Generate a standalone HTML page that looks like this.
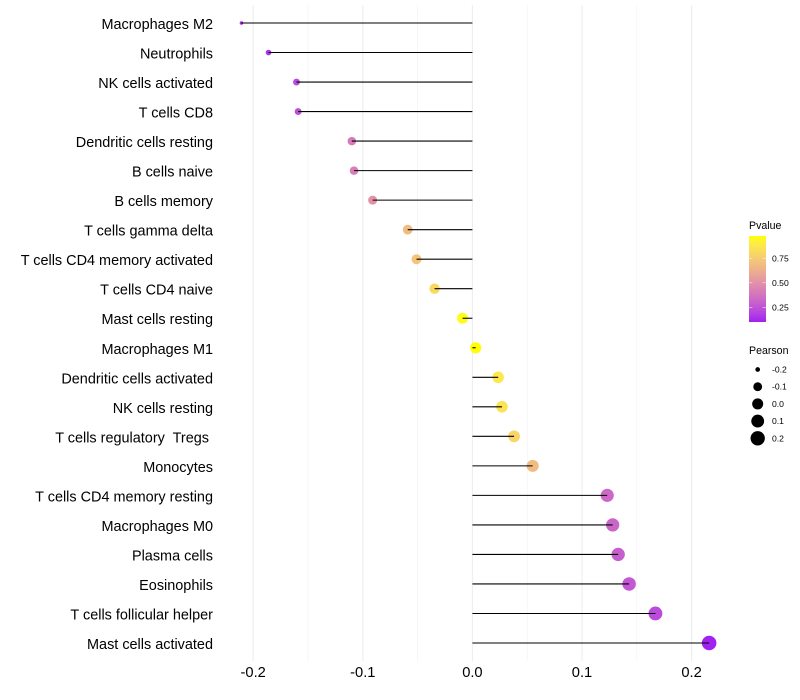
<!DOCTYPE html>
<html lang="en">
<head>
<meta charset="utf-8">
<title>Immune cell correlation lollipop chart</title>
<style>
html,body{margin:0;padding:0;background:#fff;width:800px;height:700px;overflow:hidden}
svg{display:block;font-family:"Liberation Sans",Arial,sans-serif}
</style>
</head>
<body>
<svg id="chart" width="800" height="700" viewBox="0 0 800 700" xmlns="http://www.w3.org/2000/svg">
  <defs>
    <linearGradient id="pvalue-gradient" x1="0" y1="1" x2="0" y2="0"></linearGradient>
  </defs>
  <rect width="800" height="700" fill="#ffffff"/>
  <g id="grid"></g>
  <g id="dots"></g>
  <g id="stems-top"></g>
  <g id="ylabels"></g>
  <g id="xlabels"></g>
  <g id="legend-p">
    <text x="749" y="229" font-size="10.6" fill="#000">Pvalue</text>
    <rect x="749" y="236" width="17" height="86" fill="url(#pvalue-gradient)"/>
  </g>
  <g id="legend-s">
    <text x="749" y="354" font-size="10.6" fill="#000">Pearson</text>
  </g>
</svg>
<script>
var categories = ["Macrophages M2","Neutrophils","NK cells activated","T cells CD8","Dendritic cells resting","B cells naive","B cells memory","T cells gamma delta","T cells CD4 memory activated","T cells CD4 naive","Mast cells resting","Macrophages M1","Dendritic cells activated","NK cells resting","T cells regulatory  Tregs ","Monocytes","T cells CD4 memory resting","Macrophages M0","Plasma cells","Eosinophils","T cells follicular helper","Mast cells activated"];
var pearson = [-0.2107,-0.186,-0.1605,-0.159,-0.110,-0.108,-0.091,-0.059,-0.051,-0.0345,-0.009,0.003,0.0235,0.027,0.038,0.055,0.123,0.128,0.133,0.143,0.167,0.216];
var pvalues = [0.11,0.15,0.22,0.23,0.40,0.42,0.50,0.68,0.72,0.81,0.96,0.99,0.87,0.85,0.79,0.68,0.33,0.32,0.29,0.27,0.22,0.10];
var xTicks = [-0.2,-0.1,0.0,0.1,0.2];
var xMinorTicks = [-0.15,-0.05,0.05,0.15];
var xTickLabels = ["-0.2","-0.1","0.0","0.1","0.2"];
var pLegendBreaks = [0.25,0.50,0.75];
var pLegendLabels = ["0.25","0.50","0.75"];
var sizeLegendBreaks = [-0.2,-0.1,0.0,0.1,0.2];
var sizeLegendLabels = ["-0.2","-0.1","0.0","0.1","0.2"];

var NS = "http://www.w3.org/2000/svg";
function make(tag, attrs, parent, text) {
  var el = document.createElementNS(NS, tag);
  for (var k in attrs) el.setAttribute(k, attrs[k]);
  if (text !== undefined) el.textContent = text;
  parent.appendChild(el);
  return el;
}
function slug(s) { return s.trim().toLowerCase().replace(/\s+/g, "-"); }
function xScale(v) { return 472.4 + v * 1096; }
function yScale(i) { return 23 + i * 29.524; }
function diameter(v) {
  var t = Math.max(0, (v - (-0.2107)) / 0.4267);
  return Math.max(3.6, 2.85 + 11.7 * Math.sqrt(t));
}
function lab(rgb) {
  var c = rgb.map(function (u) { u /= 255; return u > 0.04045 ? Math.pow((u + 0.055) / 1.055, 2.4) : u / 12.92; });
  var X = (0.4124 * c[0] + 0.3576 * c[1] + 0.1805 * c[2]) / 0.95047;
  var Y = 0.2126 * c[0] + 0.7152 * c[1] + 0.0722 * c[2];
  var Z = (0.0193 * c[0] + 0.1192 * c[1] + 0.9505 * c[2]) / 1.08883;
  function f(t) { return t > 0.008856 ? Math.cbrt(t) : 7.787 * t + 16 / 116; }
  return [116 * f(Y) - 16, 500 * (f(X) - f(Y)), 200 * (f(Y) - f(Z))];
}
function unlab(L) {
  var fy = (L[0] + 16) / 116, fx = fy + L[1] / 500, fz = fy - L[2] / 200;
  function g(t) { return t * t * t > 0.008856 ? t * t * t : (t - 16 / 116) / 7.787; }
  var X = g(fx) * 0.95047, Y = g(fy), Z = g(fz) * 1.08883;
  var r = [3.2406 * X - 1.5372 * Y - 0.4986 * Z, -0.9689 * X + 1.8758 * Y + 0.0415 * Z, 0.0557 * X - 0.204 * Y + 1.057 * Z];
  return "rgb(" + r.map(function (u) {
    u = Math.max(0, Math.min(1, u));
    u = u > 0.0031308 ? 1.055 * Math.pow(u, 1 / 2.4) - 0.055 : 12.92 * u;
    return Math.round(u * 255);
  }).join(",") + ")";
}
var labLow = lab([160, 32, 240]), labHigh = lab([255, 255, 0]);
var pMin = 0.098, pMax = 0.975;
function colorScale(p) {
  var t = Math.max(0, Math.min(1, (p - pMin) / (pMax - pMin)));
  return unlab([0, 1, 2].map(function (i) { return labLow[i] + (labHigh[i] - labLow[i]) * t; }));
}
function pLegendY(p) { return 307.3 - (p - 0.25) * 98; }

var grid = document.getElementById("grid");
xMinorTicks.forEach(function (v) {
  var line = make("line", {x1: xScale(v), x2: xScale(v), y1: 5, y2: 661, stroke: "#f0f0f0", "stroke-width": 0.6}, grid);
  
  
});
xTicks.forEach(function (v) {
  var line = make("line", {x1: xScale(v), x2: xScale(v), y1: 5, y2: 661, stroke: "#ededed", "stroke-width": 1.1}, grid);
  
  
});

var stems = document.getElementById("stems-top");
var dots = document.getElementById("dots");
var ylabels = document.getElementById("ylabels");
categories.forEach(function (name, i) {
  var y = yScale(i);
  var dot = make("circle", {cx: xScale(pearson[i]), cy: y, r: diameter(pearson[i]) / 2, fill: colorScale(pvalues[i])}, dots);
  
  
  var stem = make("line", {x1: xScale(0), x2: xScale(pearson[i]), y1: y, y2: y, stroke: "#000", "stroke-width": 1.07}, stems);
  
  
  var label = make("text", {x: 213, y: y + 6, "text-anchor": "end", "font-size": 14.45, fill: "#000", "xml:space": "preserve", style: "white-space:pre"}, ylabels, name);
  
  
});

var xlabels = document.getElementById("xlabels");
xTicks.forEach(function (v, i) {
  var label = make("text", {x: xScale(v), y: 677, "text-anchor": "middle", "font-size": 14.7, fill: "#000"}, xlabels, xTickLabels[i]);
  
  
});

var gradient = document.getElementById("pvalue-gradient");
for (var s = 0; s <= 20; s++) {
  make("stop", {offset: (s * 5) + "%", "stop-color": colorScale(pMin + (pMax - pMin) * s / 20)}, gradient);
}
var legendP = document.getElementById("legend-p");
pLegendBreaks.forEach(function (p, i) {
  var y = pLegendY(p);
  var tickLeft = make("line", {x1: 749, x2: 752.4, y1: y, y2: y, stroke: "#fff", "stroke-width": 0.6, opacity: 0.8}, legendP);
  
  
  var tickRight = make("line", {x1: 762.6, x2: 766, y1: y, y2: y, stroke: "#fff", "stroke-width": 0.6, opacity: 0.8}, legendP);
  
  
  var label = make("text", {x: 772, y: y + 3, "font-size": 8.6, fill: "#000"}, legendP, pLegendLabels[i]);
  
  
});

var legendS = document.getElementById("legend-s");
sizeLegendBreaks.forEach(function (v, i) {
  var y = 369.5 + i * 17.2;
  var key = make("circle", {cx: 757.7, cy: y, r: diameter(v) / 2, fill: "#000"}, legendS);
  
  
  var label = make("text", {x: 772, y: y + 3, "font-size": 8.6, fill: "#000"}, legendS, sizeLegendLabels[i]);
  
  
});
</script>
</body>
</html>
